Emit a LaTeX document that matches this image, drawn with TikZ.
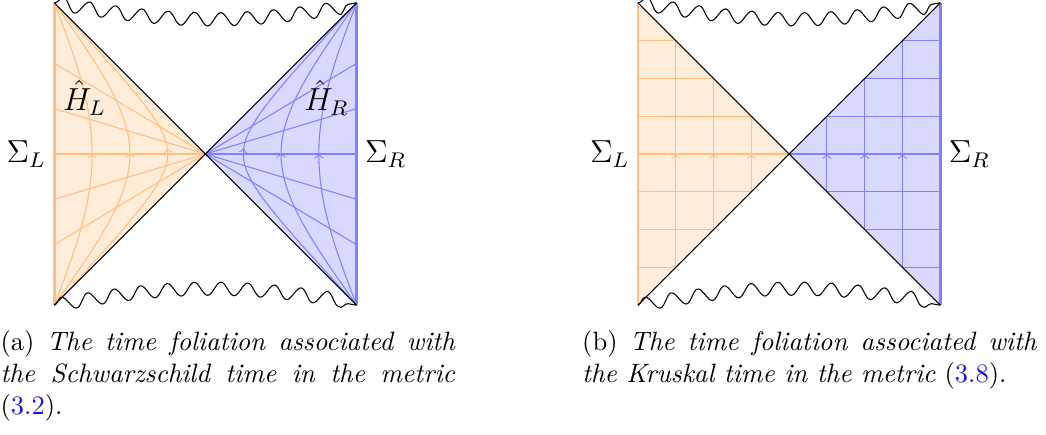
\documentclass[tikz,border=0pt]{standalone}
\usetikzlibrary{decorations.pathmorphing,decorations.markings}
\definecolor{linkblue}{rgb}{0.1,0.1,0.85}
\tikzset{
  oline/.style={draw=orange!50, line width=0.4pt},
  bline/.style={draw=blue!50, line width=0.4pt},
  oedge/.style={draw=orange!50, line width=1pt},
  bedge/.style={draw=blue!50, line width=1pt},
  ohoriz/.style={draw=orange!50, line width=0.8pt},
  bhoriz/.style={draw=blue!50, line width=0.8pt},
  midarrow/.style={postaction={decorate}, decoration={markings, mark=at position 0.5 with {\arrow{>}}}},
  sing/.style={draw=black, line width=0.4pt, decorate, decoration={snake}},
  horizon/.style={draw=black, line width=0.4pt},
  lbl/.style={inner sep=3pt, font=\large},
  hlbl/.style={font=\large},
  captext/.style={anchor=base west, inner sep=0pt}
}
\begin{document}
\begin{tikzpicture}
\useasboundingbox (-2.718,-3.704) rectangle (11.118,2.037);
% ---------------- (a) ----------------
\fill[orange!15] (-2,2) -- (0,0) -- (-2,-2) -- cycle;
\fill[blue!15] (2,2) -- (0,0) -- (2,-2) -- cycle;
\foreach \s in {-1.2,-0.6,0.6,1.2} {
  \draw[oline] (0,0) -- (-2,\s);
  \draw[bline] (0,0) -- (2,\s);
}
\foreach \k in {0.0396,0.1716,0.446} {
  \draw[oline, midarrow] plot[domain=0.2:89.8, samples=120, variable=\u]
    ({-(\u + atan(\k/tan(\u)))/45}, {(\u - atan(\k/tan(\u)))/45});
  \draw[bline, midarrow] plot[domain=0.2:89.8, samples=120, variable=\u]
    ({(\u + atan(\k/tan(\u)))/45}, {(\u - atan(\k/tan(\u)))/45});
}
\draw[ohoriz] (-2,0) -- (0,0);
\draw[bhoriz] (2,0) -- (0,0);
\draw[oedge] (-2,-2) -- (-2,2);
\draw[bedge] (2,-2) -- (2,2);
\draw[horizon] (-2,2) -- (2,-2);
\draw[horizon] (-2,-2) -- (2,2);
\draw[sing] (-2,2) to[bend right=10] (2,2);
\draw[sing] (-2,-2) to[bend left=10] (2,-2);
\node[lbl, left] (sla) at (-2,0) {$\Sigma_L$};
\node[lbl, right] (sra) at (2,0) {$\Sigma_R$};
\node[hlbl] (hl) at (-1.6,0.74) {$\hat{H}_L$};
\node[hlbl] (hr) at (1.6,0.74) {$\hat{H}_R$};
\node[captext] (capa) at (-2.718,-2.602) {\parbox[t]{171pt}{(a) \textit{The time foliation associated with the Schwarzschild time in the metric} (\textcolor{linkblue}{3.2}).}};
% ---------------- (b) ----------------
\begin{scope}[xshift=7.72cm]
\fill[orange!15] (-2,2) -- (0,0) -- (-2,-2) -- cycle;
\fill[blue!15] (2,2) -- (0,0) -- (2,-2) -- cycle;
\foreach \y in {-1.5,-1,-0.5,0.5,1,1.5} {
  \draw[oline] (-2,\y) -- ({-abs(\y)},\y);
  \draw[bline] (2,\y) -- ({abs(\y)},\y);
}
\foreach \d in {0.5,1,1.5} {
  \draw[oline, midarrow] (-2+\d,-2+\d) -- (-2+\d,2-\d);
  \draw[bline, midarrow] (2-\d,-2+\d) -- (2-\d,2-\d);
}
\draw[ohoriz] (-2,0) -- (0,0);
\draw[bhoriz] (2,0) -- (0,0);
\draw[oedge] (-2,-2) -- (-2,2);
\draw[bedge] (2,-2) -- (2,2);
\draw[horizon] (-2,2) -- (2,-2);
\draw[horizon] (-2,-2) -- (2,2);
\draw[sing] (-2,2) to[bend right=10] (2,2);
\draw[sing] (-2,-2) to[bend left=10] (2,-2);
\node[lbl, left] (slb) at (-2,0) {$\Sigma_L$};
\node[lbl, right] (srb) at (2,0) {$\Sigma_R$};
\end{scope}
\node[captext] (capb) at (4.976,-2.602) {\parbox[t]{171pt}{(b) \textit{The time foliation associated with the Kruskal time in the metric} (\textcolor{linkblue}{3.8}).}};
\end{tikzpicture}
\end{document}
